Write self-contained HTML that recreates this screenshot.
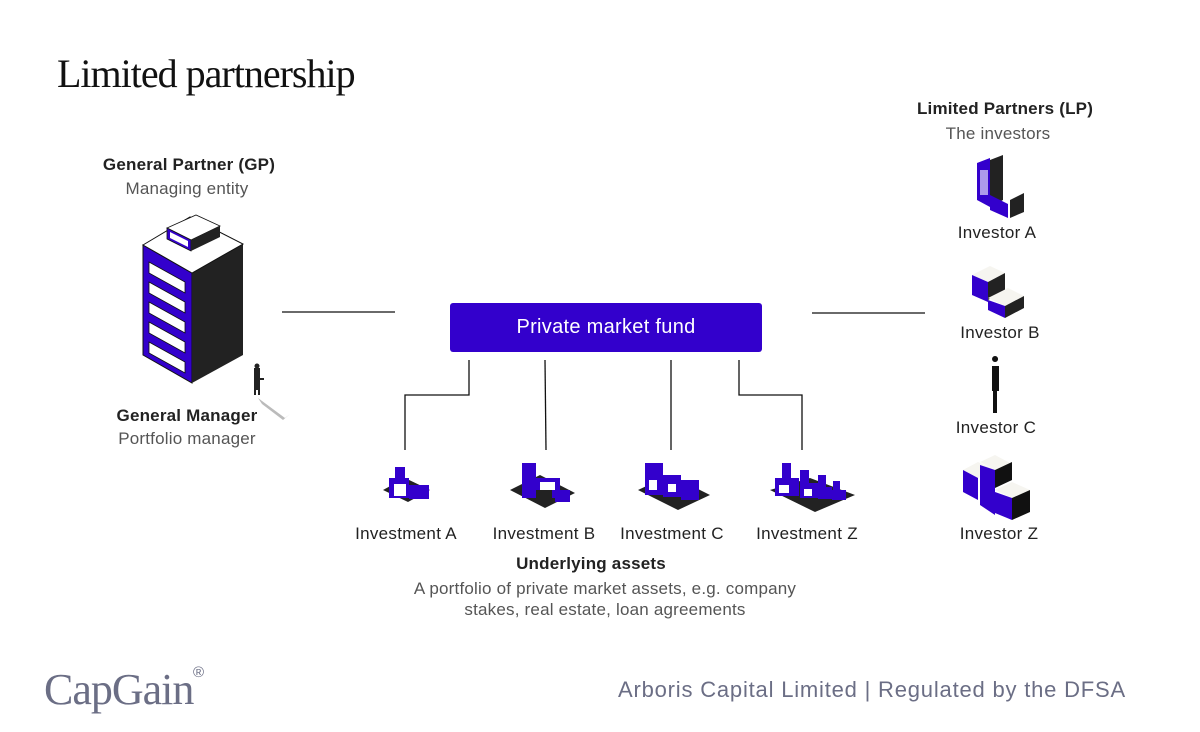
<!DOCTYPE html>
<html><head><meta charset="utf-8"><style>
body{margin:0;width:1200px;height:732px;background:#fff;position:relative;overflow:hidden;font-family:"Liberation Sans",sans-serif;color:#222}
.t{position:absolute;white-space:nowrap;text-align:center}
.b{font-weight:bold;font-size:17px;letter-spacing:0.2px;color:#222}
.g{font-size:17px;letter-spacing:0.2px;color:#555}
.l{font-size:17px;letter-spacing:0.3px;color:#222}
</style></head><body>
<div class="t" style="left:57px;top:50px;font-family:'Liberation Serif',serif;font-size:40px;letter-spacing:-1px;color:#111">Limited partnership</div>

<div class="t b" style="left:89px;top:155px;width:200px">General Partner (GP)</div>
<div class="t g" style="left:87px;top:179px;width:200px">Managing entity</div>
<div class="t b" style="left:87px;top:406px;width:200px">General Manager</div>
<div class="t g" style="left:87px;top:429px;width:200px">Portfolio manager</div>

<div class="t b" style="left:905px;top:99px;width:200px">Limited Partners (LP)</div>
<div class="t g" style="left:898px;top:124px;width:200px">The investors</div>
<div class="t l" style="left:897px;top:223px;width:200px">Investor A</div>
<div class="t l" style="left:900px;top:323px;width:200px">Investor B</div>
<div class="t l" style="left:896px;top:418px;width:200px">Investor C</div>
<div class="t l" style="left:899px;top:524px;width:200px">Investor Z</div>

<div class="t l" style="left:306px;top:524px;width:200px">Investment A</div>
<div class="t l" style="left:444px;top:524px;width:200px">Investment B</div>
<div class="t l" style="left:572px;top:524px;width:200px">Investment C</div>
<div class="t l" style="left:707px;top:524px;width:200px">Investment Z</div>
<div class="t b" style="left:491px;top:554px;width:200px">Underlying assets</div>
<div class="t g" style="left:355px;top:578px;width:500px;line-height:21px">A portfolio of private market assets, e.g. company<br>stakes, real estate, loan agreements</div>

<div style="position:absolute;left:450px;top:303px;width:312px;height:49px;background:#3300cc;border-radius:3px;color:#fff;font-size:20px;letter-spacing:0.3px;text-align:center;line-height:49px">Private market fund</div>

<div class="t" style="left:44px;top:664px;font-family:'Liberation Serif',serif;font-size:44px;color:#6b6e85;letter-spacing:-1px">CapGain</div>
<div class="t" style="left:193px;top:664px;font-size:15px;color:#6b6e85">®</div>
<div class="t" style="left:618px;top:677px;font-size:22px;letter-spacing:0.8px;color:#6b6e85">Arboris Capital Limited | Regulated by the DFSA</div>

<svg width="1200" height="732" style="position:absolute;left:0;top:0" fill="none">
<g stroke="#111" stroke-width="1.3">
<line x1="282" y1="312" x2="395" y2="312"/><line x1="812" y1="313" x2="925" y2="313"/>
<polyline points="469,360 469,395 405,395 405,450"/>
<line x1="545" y1="360" x2="546" y2="450"/>
<line x1="671" y1="360" x2="671" y2="450"/>
<polyline points="739,360 739,395 802,395 802,450"/>
</g>
<!-- GP building -->
<polygon points="143,245 192,273 192,383 143,355" fill="#3300cc" stroke="#111"/>
<polygon points="192,273 243,244 243,355 192,383" fill="#222"/>
<polygon points="143,245 190,217 243,244 192,273" fill="#fff" stroke="#111"/>
<polygon points="167,228 196,215 220,226 191,240" fill="#fff" stroke="#111" stroke-width="0.8"/>
<polygon points="167,228 191,240 191,251 167,239" fill="#3300cc" stroke="#111" stroke-width="0.8"/>
<polygon points="170,232 188,241 188,247 170,238" fill="#fff"/>
<polygon points="191,240 220,226 220,237 191,251" fill="#222"/>
<g fill="#fff" stroke="#111" stroke-width="0.8">
<polygon points="149,262 185,282 185,293 149,273"/>
<polygon points="149,282 185,302 185,313 149,293"/>
<polygon points="149,302 185,322 185,333 149,313"/>
<polygon points="149,322 185,342 185,353 149,333"/>
<polygon points="149,342 185,362 185,373 149,353"/>
</g>
<!-- manager -->
<path d="M254,368h6v10h4v2h-4v15h-2v-5h-2v5h-2z" fill="#222"/>
<circle cx="257" cy="366" r="2.5" fill="#222"/>
<path d="M258,398 L285,418 L290,414 L283,420 L262,404z" fill="#bbb"/>
<!-- investments -->
<g>
<polygon points="383,490 405,478 430,490 408,502" fill="#222"/>
<rect x="389" y="478" width="20" height="20" fill="#3300cc"/><rect x="395" y="467" width="10" height="15" fill="#3300cc"/>
<rect x="409" y="485" width="20" height="14" fill="#3300cc"/><rect x="394" y="484" width="12" height="12" fill="#fff"/>
<polygon points="510,490 540,475 575,493 545,508" fill="#222"/>
<rect x="522" y="463" width="14" height="35" fill="#3300cc"/><rect x="535" y="478" width="25" height="20" fill="#3300cc"/>
<rect x="540" y="482" width="15" height="8" fill="#fff"/><rect x="536" y="490" width="16" height="12" fill="#222"/><rect x="555" y="490" width="15" height="12" fill="#3300cc"/>
<polygon points="638,490 670,475 710,495 678,510" fill="#222"/>
<rect x="645" y="463" width="18" height="32" fill="#3300cc"/><rect x="663" y="475" width="18" height="22" fill="#3300cc"/><rect x="681" y="480" width="18" height="20" fill="#3300cc"/>
<rect x="649" y="480" width="8" height="10" fill="#fff"/><rect x="668" y="484" width="8" height="8" fill="#fff"/>
<polygon points="770,490 810,478 855,495 815,512" fill="#222"/>
<rect x="775" y="478" width="24" height="18" fill="#3300cc"/><rect x="800" y="483" width="18" height="15" fill="#3300cc"/><rect x="818" y="487" width="14" height="12" fill="#3300cc"/><rect x="832" y="490" width="14" height="10" fill="#3300cc"/>
<rect x="782" y="463" width="9" height="17" fill="#3300cc"/><rect x="800" y="470" width="9" height="15" fill="#3300cc"/><rect x="818" y="475" width="8" height="13" fill="#3300cc"/><rect x="833" y="481" width="7" height="10" fill="#3300cc"/>
<rect x="779" y="485" width="10" height="8" fill="#fff"/><rect x="804" y="489" width="8" height="7" fill="#fff"/>
</g>
<!-- investors -->
<polygon points="977,163 990,158 990,207 977,200" fill="#3300cc"/>
<polygon points="990,160 1003,155 1003,200 990,207" fill="#222"/>
<polygon points="990,195 1008,204 1008,218 990,210" fill="#3300cc"/>
<polygon points="1010,200 1024,193 1024,212 1010,218" fill="#222"/>
<rect x="980" y="170" width="8" height="25" fill="#fff" opacity=".6"/>
<polygon points="972,275 990,266 1005,273 988,282" fill="#f6f5f0"/>
<polygon points="972,275 988,282 988,302 972,295" fill="#3300cc"/>
<polygon points="988,282 1005,273 1005,290 988,300" fill="#222"/>
<polygon points="988,298 1008,288 1024,296 1005,306" fill="#f6f5f0"/>
<polygon points="988,300 1005,306 1005,318 988,310" fill="#3300cc"/>
<polygon points="1005,306 1024,296 1024,308 1005,318" fill="#222"/>
<path d="M995,362a3,3 0 1,1 0.1,0 M992,366h7v25h-2v22h-4v-22h-1z" fill="#111"/>
<polygon points="963,470 978,462 995,470 978,478" fill="#f6f5f0"/>
<polygon points="963,470 978,478 978,500 963,492" fill="#3300cc"/>
<polygon points="980,462 995,455 1010,463 995,470" fill="#f6f5f0"/>
<polygon points="980,465 995,470 995,515 980,505" fill="#3300cc"/>
<polygon points="995,470 1012,462 1012,480 995,488" fill="#111"/>
<polygon points="995,490 1012,482 1030,490 1012,498" fill="#f6f5f0"/>
<polygon points="995,492 1012,498 1012,520 995,513" fill="#3300cc"/>
<polygon points="1012,498 1030,490 1030,512 1012,520" fill="#111"/>
</svg>
</body></html>
